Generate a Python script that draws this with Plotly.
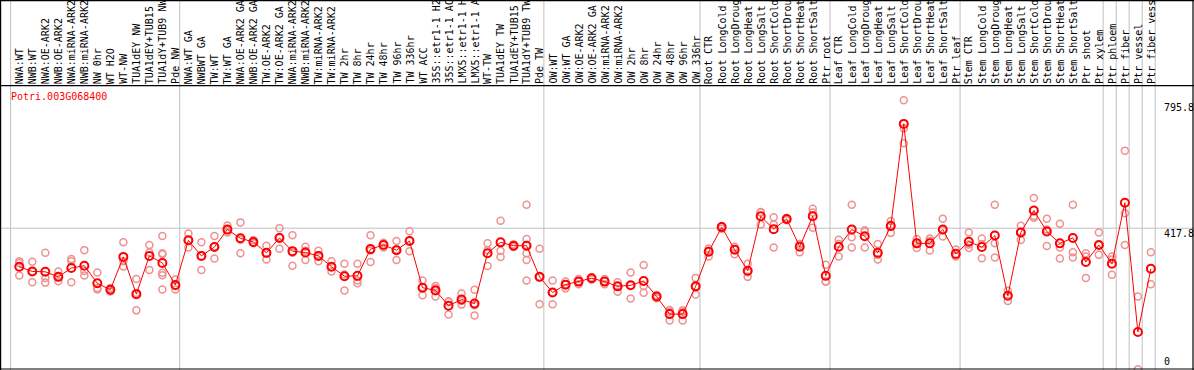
import plotly.graph_objects as go

# ---------------- data ----------------
gene_id = "Potri.003G068400"

categories = [
    "NWA:WT", "NWB:WT", "NWA:OE-ARK2", "NWB:OE-ARK2", "NWA:miRNA-ARK2", "NWB:miRNA-ARK2",
    "NW 0hr", "WT H2O", "WT-NW", "TUA1dEY NW", "TUA1dEY+TUB15 NW", "TUA1dY+TUB9 NW", "Pde NW",
    "NWA:WT GA", "NWBWT GA", "TW:WT", "TW:WT GA", "NWA:OE-ARK2 GA", "NWB:OE-ARK2 GA",
    "TW:OE-ARK2", "TW:OE-ARK2 GA", "NWA:miRNA-ARK2", "NWB:miRNA-ARK2", "TW:miRNA-ARK2",
    "TW:miRNA-ARK2", "TW 2hr", "TW 8hr", "TW 24hr", "TW 48hr", "TW 96hr", "TW 336hr",
    "WT ACC", "35S::etr1-1 H2O", "35S::etr1-1 ACC", "LMX5::etr1-1 H2O", "LMX5::etr1-1 ACC",
    "WT-TW", "TUA1dEY TW", "TUA1dEY+TUB15 TW", "TUA1dY+TUB9 TW", "Pde TW",
    "OW:WT", "OW:WT GA", "OW:OE-ARK2", "OW:OE-ARK2 GA", "OW:miRNA-ARK2", "OW:miRNA-ARK2",
    "OW 2hr", "OW 8hr", "OW 24hr", "OW 48hr", "OW 96hr", "OW 336hr",
    "Root CTR", "Root LongCold", "Root LongDrought", "Root LongHeat", "Root LongSalt",
    "Root ShortCold", "Root ShortDrought", "Root ShortHeat", "Root ShortSalt", "Ptr root",
    "Leaf CTR", "Leaf LongCold", "Leaf LongDrought", "Leaf LongHeat", "Leaf LongSalt",
    "Leaf ShortCold", "Leaf ShortDrought", "Leaf ShortHeat", "Leaf ShortSalt", "Ptr leaf",
    "Stem CTR", "Stem LongCold", "Stem LongDrought", "Stem LongHeat", "Stem LongSalt",
    "Stem ShortCold", "Stem ShortDrought", "Stem ShortHeat", "Stem ShortSalt", "Ptr shoot",
    "Ptr xylem", "Ptr phloem", "Ptr fiber", "Ptr vessel", "Ptr fiber vessel",
]

means = [
    304, 290, 289, 274, 300, 307, 255, 236, 333, 223, 336, 315, 250,
    382, 336, 362, 414, 388, 377, 345, 389, 350, 346, 336, 304, 276, 277, 356,
    368, 353, 380, 242, 234, 189, 207, 195, 344, 376, 366, 366, 274,
    228, 251, 260, 270, 260, 246, 249, 262, 216, 164, 164, 246,
    348, 421, 354, 292, 453, 415, 445, 363, 453, 277,
    363, 414, 394, 345, 424, 726, 373, 373, 414, 342,
    378, 362, 396, 218, 405, 470, 408, 373, 389, 318, 368,
    313, 493, 111, 298,
]

replicates = [
    [320, 315, 278], [319, 290, 258], [345, 271, 257], [290, 274, 261], [327, 320, 258],
    [353, 291, 278], [287, 237, 241], [241, 231, 236], [376, 320, 305], [268, 175, 226],
    [368, 346, 294], [395, 344, 341, 286, 279, 237], [266, 237, 247],
    [402, 361, 382], [376, 294, 336], [395, 328, 364], [426, 405, 412], [435, 344, 384],
    [383, 373, 375], [366, 325, 344], [418, 357, 392], [397, 307, 345], [363, 324, 351],
    [351, 320, 338], [320, 290, 303], [313, 234, 281], [313, 255, 263], [397, 318, 352],
    [375, 361, 369], [380, 324, 355], [409, 350, 381], [263, 220, 243], [247, 216, 240],
    [202, 163, 200], [225, 192, 203], [236, 160, 190], [373, 306, 353], [440, 351, 333],
    [370, 362, 366], [487, 386, 368, 344, 324, 263], [357, 193, 273],
    [263, 193, 228], [260, 240, 252], [268, 252, 260], [266, 273, 270], [252, 268, 261],
    [258, 230, 247], [287, 210, 249], [309, 247, 227], [211, 220, 216], [176, 145, 171],
    [171, 145, 175], [271, 222, 245],
    [358, 334, 351], [424, 416, 422], [363, 341, 356], [313, 274, 288], [464, 429, 466],
    [450, 429, 361], [441, 448, 445], [347, 371, 371], [475, 419, 464], [310, 260, 260],
    [384, 334, 371], [487, 391, 361], [412, 361, 407], [371, 325, 339], [439, 404, 428],
    [795.8, 713, 669], [386, 359, 375], [387, 352, 381], [446, 393, 412], [355, 334, 337],
    [405, 359, 370], [387, 329, 371], [487, 373, 331], [233, 203, 218], [425, 383, 407],
    [507, 449, 454], [446, 365, 414], [431, 361, 328], [487, 347, 331], [344, 271, 334],
    [405, 339, 368],
    [334, 280, 325], [647, 462, 368], [216, 1], [347, 252],
]

# cells after which a grey separator is drawn
group_breaks = [0, 13, 41, 53, 63, 73, 84, 85, 86, 87, 88]
y_tick_values = [795.8, 417.8, 0]

# ---------------- figure ----------------
W, H = 1194, 370
STEP = 13.007          # px per category
X0_PX = 6.29           # px of category "0"
Y0_PX = 369.6          # px of value 0
Y_MID_PX = 228.2       # px of the 417.8 reference line
PX_PER_UNIT = (Y0_PX - Y_MID_PX) / y_tick_values[1]
TOP_PX = 85.7          # separator between labels and plot
MAX_LABEL_CHARS = 14   # label strip is only ~14 characters tall

xs = list(range(1, len(categories) + 1))
rep_x, rep_y = [], []
for xi, reps in zip(xs, replicates):
    for r in reps:
        rep_x.append(xi)
        rep_y.append(r)

fig = go.Figure()
fig.add_trace(go.Scatter(
    x=rep_x, y=rep_y, mode="markers",
    marker=dict(symbol="circle-open", size=7, color="rgb(238,145,145)", line=dict(width=1.5)),
    hoverinfo="skip", showlegend=False,
))
fig.add_trace(go.Scatter(
    x=xs, y=means, mode="lines+markers",
    line=dict(color="rgb(255,0,0)", width=1),
    marker=dict(symbol="circle-open", size=8, color="rgb(255,0,0)", line=dict(width=2)),
    showlegend=False,
))

x_range = [(0 - X0_PX) / STEP, (W - X0_PX) / STEP]
y_bottom = (Y0_PX - H) / PX_PER_UNIT
y_top = (Y0_PX - TOP_PX) / PX_PER_UNIT

shapes = []
for k in group_breaks:
    shapes.append(dict(type="line", xref="x", yref="paper", x0=k + 0.33, x1=k + 0.33,
                       y0=0, y1=1, line=dict(color="rgb(192,192,192)", width=1), layer="below"))
shapes.append(dict(type="line", xref="paper", yref="y", x0=0, x1=1, y0=y_tick_values[1],
                   y1=y_tick_values[1], line=dict(color="rgb(192,192,192)", width=1), layer="below"))

def py(px):
    return 1 - px / H

black = dict(color="black", width=1.2)
shapes += [
    dict(type="line", xref="paper", yref="paper", x0=0.6 / W, x1=0.6 / W, y0=0, y1=1, line=black, layer="above"),
    dict(type="line", xref="paper", yref="paper", x0=1 - 1 / W, x1=1 - 1 / W, y0=0, y1=1, line=black, layer="above"),
    dict(type="line", xref="paper", yref="paper", x0=0, x1=1, y0=py(0.6), y1=py(0.6), line=black, layer="above"),
    dict(type="line", xref="paper", yref="paper", x0=0, x1=1, y0=py(TOP_PX), y1=py(TOP_PX), line=black, layer="above"),
    dict(type="line", xref="paper", yref="paper", x0=0, x1=1, y0=py(369), y1=py(369), line=black, layer="above"),
]

mono = "DejaVu Sans Mono"
annotations = []
for xi, name in zip(xs, categories):
    annotations.append(dict(
        x=xi, xref="x", y=py(85), yref="paper", text=name[:MAX_LABEL_CHARS], showarrow=False,
        textangle=-90, xanchor="center", yanchor="bottom", borderpad=0,
        font=dict(family=mono, size=10, color="black"),
    ))

annotations.append(dict(x=8.5 / W, xref="paper", y=py(96.7), yref="paper", text=gene_id,
                        showarrow=False, xanchor="left", yanchor="middle",
                        font=dict(family=mono, size=10, color="red")))
label_shift = {795.8: 0, 417.8: 2.5, 0: 1}
for v in y_tick_values:
    annotations.append(dict(
        x=1162 / W, xref="paper", y=v, yref="y", text=("0" if v == 0 else f"{v:.1f}"),
        showarrow=False, xanchor="left", yanchor=("bottom" if v == 0 else "top"),
        yshift=label_shift[v], font=dict(family=mono, size=10, color="black"),
    ))

fig.update_layout(
    width=W, height=H, margin=dict(l=0, r=0, t=0, b=0),
    paper_bgcolor="white", plot_bgcolor="white",
    xaxis=dict(range=x_range, domain=[0, 1], showgrid=False, zeroline=False,
               showticklabels=False, ticks="", showline=False, fixedrange=True),
    yaxis=dict(range=[y_bottom, y_top], domain=[0, (H - TOP_PX) / H], showgrid=False,
               zeroline=False, showticklabels=False, ticks="", showline=False, fixedrange=True),
    shapes=shapes, annotations=annotations, showlegend=False,
)

fig.write_html(
    "out.html",
    config={"displayModeBar": False},
    post_script="document.body.style.margin='0px';document.body.style.overflow='hidden';",
)
